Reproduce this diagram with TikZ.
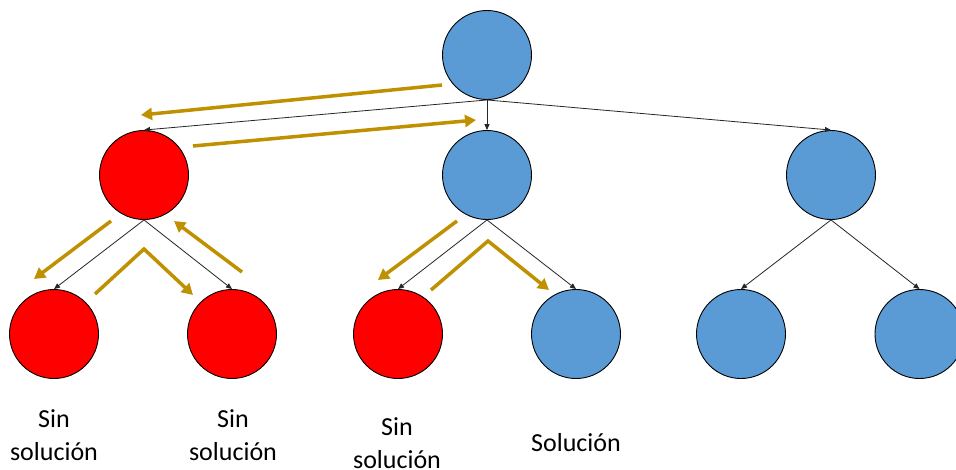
\documentclass[tikz,border=0pt]{standalone}
\usepackage{fontspec}
\setmainfont{Carlito}
\usetikzlibrary{arrows.meta}
\definecolor{nodeblue}{HTML}{5B9BD5}
\definecolor{nodered}{HTML}{FF0000}
\definecolor{trace}{HTML}{BF9000}
\tikzset{
  state/.style={circle, draw=black, line width=0.9pt, minimum size=89pt, inner sep=0pt},
  open/.style={state, fill=nodeblue},
  dead/.style={state, fill=nodered},
  edge/.style={draw=black!85, line width=0.8pt, -{Triangle[length=6pt,width=5pt]}},
  walk/.style={draw=trace, line width=3.5pt, -{Triangle[length=11pt,width=12pt]}},
  lbl/.style={font=\fontsize{26pt}{33pt}\selectfont, align=center, inner sep=0pt}
}
\begin{document}
\begin{tikzpicture}[x=1pt,y=-1pt]
  \clip (0,0) rectangle (956,469);
  \fill[white] (0,0) rectangle (956,469);

  % search tree
  \node[open] (r)   at (487,55)  {};
  \node[dead] (a)   at (144,175) {};
  \node[open] (b)   at (487,175) {};
  \node[open] (c)   at (831,175) {};
  \node[dead] (a1)  at (54,334)  {};
  \node[dead] (a2)  at (232,334) {};
  \node[dead] (b1)  at (398,334) {};
  \node[open] (b2)  at (576,334) {};
  \node[open] (c1)  at (741,334) {};
  \node[open] (c2)  at (919.5,334) {};

  \draw[edge] (r.south) -- (a.north);
  \draw[edge] (r.south) -- (b.north);
  \draw[edge] (r.south) -- (c.north);
  \draw[edge] (a.south) -- (a1.north);
  \draw[edge] (a.south) -- (a2.north);
  \draw[edge] (b.south) -- (b1.north);
  \draw[edge] (b.south) -- (b2.north);
  \draw[edge] (c.south) -- (c1.north);
  \draw[edge] (c.south) -- (c2.north);

  % backtracking path
  \coordinate (w1s) at (442,85);   \coordinate (w1e) at (141,115);
  \coordinate (w2s) at (193,146);  \coordinate (w2e) at (476,120);
  \coordinate (w3s) at (111,221);  \coordinate (w3e) at (34,279);
  \coordinate (w4s) at (95,294);   \coordinate (w4p) at (144,249);  \coordinate (w4e) at (193,295);
  \coordinate (w5s) at (242,272);  \coordinate (w5e) at (174,221);
  \coordinate (w6s) at (457,221);  \coordinate (w6e) at (378,280);
  \coordinate (w7s) at (431,290);  \coordinate (w7p) at (488,241);  \coordinate (w7e) at (549,290);

  \draw[walk] (w1s) -- (w1e);
  \draw[walk] (w2s) -- (w2e);
  \draw[walk] (w3s) -- (w3e);
  \draw[walk] (w4s) -- (w4p) -- (w4e);
  \draw[walk] (w5s) -- (w5e);
  \draw[walk] (w6s) -- (w6e);
  \draw[walk] (w7s) -- (w7p) -- (w7e);

  % outcomes
  \node[lbl] (t1) at (54,435)  {Sin\\solución};
  \node[lbl] (t2) at (233,435) {Sin\\solución};
  \node[lbl] (t3) at (397,443) {Sin\\solución};
  \node[lbl] (t4) at (576,443) {Solución};
\end{tikzpicture}
\end{document}
